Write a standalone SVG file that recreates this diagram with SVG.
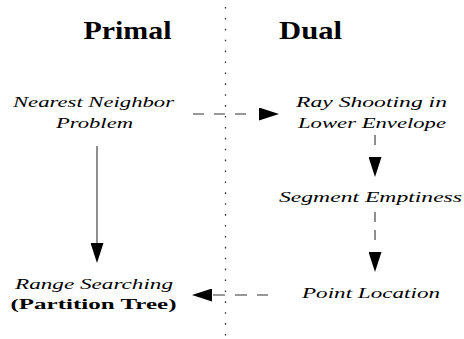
<svg xmlns="http://www.w3.org/2000/svg" width="464" height="339" viewBox="0 0 464 339">
  <style>
    .it { font-style: italic; font-size: 15px; fill: #000; text-anchor: middle; }
    .bd { font-weight: bold; font-size: 15px; fill: #000; text-anchor: middle; }
    .hd { font-weight: bold; font-size: 25px; fill: #000; text-anchor: middle; }
    .sep { stroke: #333; stroke-width: 1.3; stroke-dasharray: 1.6 9.3; fill: none; }
    .edge { stroke: #333; stroke-width: 1.1; fill: none; marker-end: url(#ah); }
  </style>
  <defs>
    <marker id="ah" viewBox="0 0 20 13" markerWidth="20" markerHeight="13" refX="0" refY="6.5" orient="auto" markerUnits="userSpaceOnUse">
      <path d="M0,0 L20,6.5 L0,13 z" fill="#000"/>
    </marker>
  </defs>
  <rect width="464" height="339" fill="#fff"/>

  <g id="separator">
    <line class="sep" x1="225.5" y1="7" x2="225.5" y2="339"/>
  </g>

  <g id="headers" font-family="Liberation Serif, Times New Roman, serif">
    <text class="hd" x="127.5" y="38.5" textLength="88" lengthAdjust="spacingAndGlyphs">Primal</text>
    <text class="hd" x="310.5" y="38.5" textLength="63" lengthAdjust="spacingAndGlyphs">Dual</text>
  </g>

  <g id="connectors">
    <line class="edge" x1="193" y1="114" x2="259" y2="114" stroke-dasharray="11 10 11 10 11 13"/>
    <line class="edge" x1="375" y1="135" x2="375" y2="157" stroke-dasharray="10 20"/>
    <line class="edge" x1="375" y1="212" x2="375" y2="252" stroke-dasharray="10 8 10 12"/>
    <line class="edge" x1="268" y1="295" x2="212" y2="295" stroke-dasharray="11 10 12 10 12 10"/>
    <line class="edge" x1="97" y1="146" x2="97" y2="243" stroke="#000"/>
  </g>

  <g id="nearest-neighbor" font-family="Liberation Serif, Times New Roman, serif">
    <text class="it" x="93.5" y="107" textLength="161" lengthAdjust="spacingAndGlyphs">Nearest Neighbor</text>
    <text class="it" x="94.5" y="128" textLength="77" lengthAdjust="spacingAndGlyphs">Problem</text>
  </g>

  <g id="ray-shooting" font-family="Liberation Serif, Times New Roman, serif">
    <text class="it" x="371.5" y="107" textLength="151" lengthAdjust="spacingAndGlyphs">Ray Shooting in</text>
    <text class="it" x="372" y="128" textLength="148" lengthAdjust="spacingAndGlyphs">Lower Envelope</text>
  </g>

  <g id="segment-emptiness" font-family="Liberation Serif, Times New Roman, serif">
    <text class="it" x="370.5" y="202" textLength="183" lengthAdjust="spacingAndGlyphs">Segment Emptiness</text>
  </g>

  <g id="point-location" font-family="Liberation Serif, Times New Roman, serif">
    <text class="it" x="371" y="298" textLength="138" lengthAdjust="spacingAndGlyphs">Point Location</text>
  </g>

  <g id="range-searching" font-family="Liberation Serif, Times New Roman, serif">
    <text class="it" x="94" y="289" textLength="158" lengthAdjust="spacingAndGlyphs">Range Searching</text>
    <text class="bd" x="93.5" y="309" textLength="166" lengthAdjust="spacingAndGlyphs">(Partition Tree)</text>
  </g>
</svg>
